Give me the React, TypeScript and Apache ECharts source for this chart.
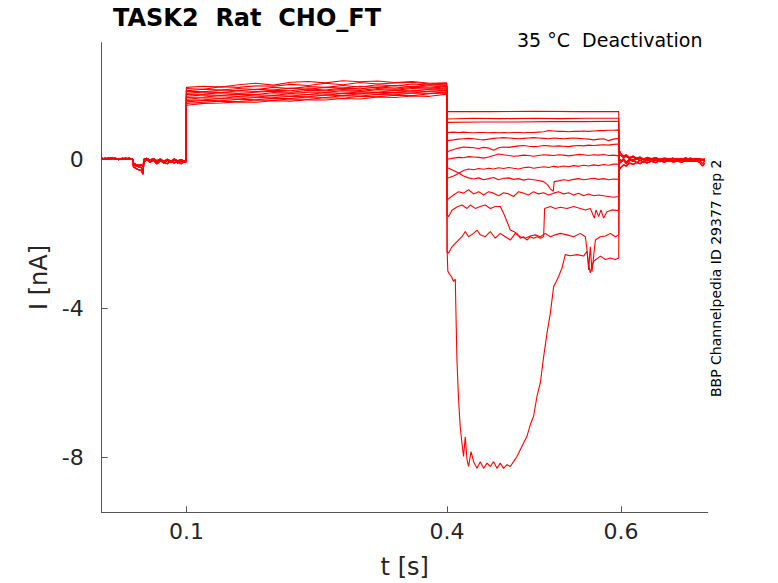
import React, { useEffect, useRef } from "react";
import * as echarts from "echarts";

// ---- axis ticks ----
const X_TICKS = [0.1, 0.4, 0.6];
const Y_TICKS = [-8, -4, 0];

// ---- holding segment (0 .. 0.1 s) ----
const T_BASE = [0.0025, 0.006, 0.01, 0.014, 0.018, 0.022, 0.026, 0.03, 0.034, 0.038, 0.039, 0.042, 0.045, 0.048, 0.05, 0.051, 0.054, 0.058, 0.062, 0.066, 0.07, 0.074, 0.078, 0.082, 0.086, 0.09, 0.094, 0.098, 0.0995];
const BASE_A = [0.02, 0.0, 0.03, 0.01, 0.02, -0.01, 0.03, 0.0, 0.02, 0.01, -0.15, -0.18, -0.2, -0.22, -0.35, -0.05, 0.02, -0.05, 0.01, -0.08, -0.02, -0.1, -0.03, -0.09, -0.02, -0.1, -0.04, -0.08, -0.05];
const BASE_B = [0.0, 0.03, 0.01, 0.04, 0.0, 0.02, 0.01, 0.03, 0.0, 0.02, -0.1, -0.14, -0.16, -0.15, -0.2, 0.0, 0.03, -0.02, 0.02, -0.04, 0.01, -0.06, 0.0, -0.05, 0.01, -0.04, -0.01, -0.05, 0.0];
const BASE_C = [0.03, 0.01, 0.0, 0.02, 0.03, 0.0, 0.02, 0.01, 0.03, 0.0, -0.2, -0.25, -0.28, -0.3, -0.4, -0.1, 0.0, -0.08, -0.03, -0.12, -0.05, -0.08, -0.12, -0.04, -0.1, -0.06, -0.12, -0.03, -0.08];

// ---- conditioning segment (0.1 .. 0.4 s) ----
const T_COND = [0.1, 0.12, 0.14, 0.16, 0.18, 0.2, 0.22, 0.24, 0.26, 0.28, 0.3, 0.32, 0.34, 0.36, 0.38, 0.3995];
const COND_1 = [1.93, 1.96, 1.94, 2.0, 2.04, 1.99, 2.07, 2.09, 2.05, 2.11, 2.08, 2.1, 2.06, 2.09, 2.04, 2.05];
const COND_2 = [1.9, 1.88, 1.95, 1.93, 1.97, 1.96, 2.01, 1.98, 2.04, 2.0, 2.06, 2.02, 2.05, 2.07, 2.02, 2.04];
const COND_3 = [1.84, 1.88, 1.86, 1.9, 1.87, 1.93, 1.9, 1.95, 1.93, 1.98, 1.94, 2.0, 1.97, 2.02, 1.99, 2.02];
const COND_4 = [1.83, 1.81, 1.86, 1.84, 1.88, 1.86, 1.91, 1.88, 1.93, 1.91, 1.96, 1.93, 1.98, 1.95, 2.0, 1.98];
const COND_5 = [1.77, 1.81, 1.79, 1.84, 1.82, 1.85, 1.84, 1.89, 1.86, 1.91, 1.89, 1.94, 1.91, 1.96, 1.94, 1.97];
const COND_6 = [1.74, 1.75, 1.79, 1.77, 1.8, 1.83, 1.8, 1.85, 1.84, 1.87, 1.85, 1.9, 1.88, 1.93, 1.91, 1.95];
const COND_7 = [1.69, 1.73, 1.72, 1.75, 1.74, 1.79, 1.77, 1.8, 1.8, 1.84, 1.82, 1.87, 1.85, 1.9, 1.88, 1.92];
const COND_8 = [1.66, 1.67, 1.71, 1.69, 1.73, 1.72, 1.76, 1.74, 1.79, 1.77, 1.81, 1.8, 1.85, 1.83, 1.88, 1.89];
const COND_9 = [1.61, 1.65, 1.64, 1.68, 1.67, 1.71, 1.7, 1.74, 1.72, 1.77, 1.76, 1.8, 1.79, 1.84, 1.82, 1.86];
const COND_10 = [1.58, 1.6, 1.63, 1.62, 1.66, 1.65, 1.69, 1.68, 1.73, 1.71, 1.76, 1.75, 1.79, 1.78, 1.83, 1.84];
const COND_11 = [1.54, 1.58, 1.57, 1.61, 1.6, 1.64, 1.63, 1.67, 1.66, 1.71, 1.7, 1.74, 1.73, 1.78, 1.77, 1.81];
const COND_12 = [1.5, 1.53, 1.56, 1.55, 1.59, 1.58, 1.62, 1.61, 1.65, 1.64, 1.69, 1.68, 1.72, 1.71, 1.76, 1.78];
const COND_13 = [1.45, 1.5, 1.51, 1.54, 1.53, 1.57, 1.56, 1.6, 1.59, 1.63, 1.62, 1.67, 1.66, 1.7, 1.69, 1.75];

// ---- test segment (0.4 .. 0.6 s) ----
const T_TEST = [0.4, 0.4074, 0.4132, 0.4189, 0.4247, 0.4305, 0.4363, 0.442, 0.4478, 0.4535, 0.4593, 0.465, 0.4708, 0.4765, 0.4823, 0.488, 0.4938, 0.4995, 0.5053, 0.5111, 0.5168, 0.5226, 0.5283, 0.5341, 0.5398, 0.5456, 0.5513, 0.5571, 0.5628, 0.5686, 0.5743, 0.5801, 0.5858, 0.5916, 0.5975];
const TEST_1 = [[0.4, 1.28], [0.45, 1.28], [0.5, 1.29], [0.55, 1.28], [0.5975, 1.28]];
const TEST_2 = [[0.4, 1.08], [0.43, 1.1], [0.46, 1.09], [0.5, 1.1], [0.53, 1.09], [0.56, 1.1], [0.5975, 1.1]];
const TEST_3 = [[0.4, 0.99], [0.44, 1.0], [0.48, 1.0], [0.52, 1.01], [0.56, 1.01], [0.5975, 1.02]];
const TEST_4 = [0.72, 0.73, 0.72, 0.73, 0.72, 0.71, 0.72, 0.72, 0.71, 0.72, 0.71, 0.72, 0.71, 0.72, 0.72, 0.71, 0.72, 0.72, 0.73, 0.74, 0.77, 0.76, 0.75, 0.75, 0.74, 0.75, 0.75, 0.76, 0.75, 0.76, 0.77, 0.77, 0.78, 0.78, 0.79];
const TEST_5 = [0.5, 0.52, 0.54, 0.55, 0.56, 0.55, 0.53, 0.52, 0.54, 0.56, 0.57, 0.58, 0.57, 0.56, 0.55, 0.56, 0.57, 0.58, 0.57, 0.56, 0.55, 0.57, 0.56, 0.55, 0.56, 0.57, 0.56, 0.55, 0.54, 0.52, 0.54, 0.55, 0.5, 0.54, 0.56];
const TEST_6 = [0.2, 0.26, 0.3, 0.33, 0.32, 0.31, 0.29, 0.32, 0.3, 0.24, 0.31, 0.33, 0.32, 0.34, 0.36, 0.37, 0.35, 0.34, 0.35, 0.37, 0.36, 0.35, 0.36, 0.35, 0.34, 0.36, 0.37, 0.36, 0.38, 0.37, 0.38, 0.39, 0.38, 0.4, 0.41];
const TEST_7 = [0.0, 0.03, 0.05, 0.04, 0.07, 0.06, 0.05, 0.03, 0.06, 0.1, 0.14, 0.12, 0.1, 0.08, 0.09, 0.11, 0.1, 0.08, 0.1, 0.12, 0.11, 0.1, 0.12, 0.11, 0.09, 0.11, 0.13, 0.12, 0.1, 0.12, 0.11, 0.13, 0.1, 0.11, 0.09];
const TEST_8 = [[0.4, -0.22], [0.4017, -0.24], [0.4074, -0.3], [0.4132, -0.37], [0.4189, -0.45], [0.4247, -0.5], [0.4305, -0.53], [0.4363, -0.5], [0.442, -0.55], [0.4478, -0.52], [0.4535, -0.49], [0.4593, -0.55], [0.465, -0.51], [0.4708, -0.5], [0.4765, -0.54], [0.4823, -0.52], [0.488, -0.56], [0.4938, -0.53], [0.4995, -0.55], [0.5053, -0.57], [0.5111, -0.6], [0.5155, -0.68], [0.519, -0.8], [0.5222, -0.86], [0.5232, -0.6], [0.5283, -0.58], [0.5341, -0.55], [0.5398, -0.57], [0.5456, -0.54], [0.5513, -0.52], [0.5571, -0.55], [0.5628, -0.53], [0.5686, -0.51], [0.5743, -0.54], [0.5801, -0.52], [0.5858, -0.55], [0.5916, -0.53], [0.5975, -0.54]];
const TEST_9 = [-0.51, -0.45, -0.38, -0.3, -0.26, -0.28, -0.25, -0.27, -0.24, -0.26, -0.23, -0.25, -0.22, -0.24, -0.26, -0.23, -0.21, -0.24, -0.22, -0.2, -0.22, -0.19, -0.21, -0.18, -0.2, -0.17, -0.19, -0.16, -0.18, -0.15, -0.17, -0.14, -0.16, -0.13, -0.13];
const TEST_10 = [-1.09, -0.96, -0.87, -0.91, -0.82, -0.93, -0.87, -0.96, -0.87, -0.91, -0.98, -0.9, -0.93, -1.0, -0.87, -0.91, -0.96, -0.87, -0.93, -0.9, -0.96, -0.91, -0.87, -0.93, -0.9, -0.96, -0.91, -0.98, -0.93, -0.98, -0.96, -0.98, -1.0, -1.02, -1.0];
const TEST_11 = [[0.4, -1.5], [0.4017, -1.54], [0.4056, -1.37], [0.4113, -1.28], [0.4171, -1.23], [0.4229, -1.32], [0.4267, -1.23], [0.4324, -1.32], [0.4382, -1.27], [0.4439, -1.23], [0.4497, -1.32], [0.4554, -1.27], [0.4612, -1.27], [0.465, -1.45], [0.4689, -1.67], [0.4727, -1.9], [0.4765, -1.94], [0.4804, -1.99], [0.4842, -2.12], [0.488, -2.08], [0.4919, -2.17], [0.4957, -2.08], [0.4995, -2.12], [0.5034, -2.08], [0.5073, -2.12], [0.5111, -2.08], [0.5122, -1.32], [0.5188, -1.27], [0.5245, -1.32], [0.5303, -1.29], [0.538, -1.32], [0.5456, -1.27], [0.5533, -1.32], [0.5591, -1.36], [0.5648, -1.32], [0.5694, -1.58], [0.5714, -1.36], [0.5744, -1.54], [0.5771, -1.36], [0.5801, -1.58], [0.584, -1.41], [0.5898, -1.36], [0.5975, -1.38]];
const TEST_12 = [[0.4, -2.5], [0.4017, -2.52], [0.4056, -2.35], [0.4113, -2.21], [0.4171, -2.08], [0.4209, -1.94], [0.4247, -2.08], [0.4305, -1.99], [0.4344, -1.9], [0.4382, -2.03], [0.4439, -2.08], [0.4497, -1.94], [0.4554, -2.12], [0.4612, -1.99], [0.467, -2.08], [0.4727, -2.17], [0.4785, -1.99], [0.4842, -2.08], [0.49, -2.12], [0.4957, -2.06], [0.5015, -2.03], [0.5073, -2.08], [0.513, -1.99], [0.5188, -2.08], [0.5245, -2.03], [0.5303, -1.99], [0.538, -2.03], [0.5456, -2.08], [0.5533, -1.99], [0.5591, -2.08], [0.561, -2.43], [0.5629, -2.97], [0.5648, -2.35], [0.5668, -3.02], [0.5686, -2.61], [0.5706, -2.17], [0.5763, -2.08], [0.5821, -2.06], [0.5879, -1.99], [0.5936, -2.08], [0.5975, -2.03]];
const TEST_13 = [[0.4, -2.45], [0.4008, -3.0], [0.4025, -3.08], [0.405, -3.15], [0.4075, -3.28], [0.4094, -3.22], [0.4113, -5.39], [0.4132, -6.46], [0.4151, -7.18], [0.417, -7.6], [0.4189, -7.98], [0.4209, -7.45], [0.4229, -8.07], [0.4247, -8.25], [0.4275, -7.85], [0.4305, -8.12], [0.4344, -8.3], [0.4382, -8.12], [0.442, -8.3], [0.4459, -8.16], [0.4497, -8.25], [0.4535, -8.12], [0.4574, -8.3], [0.4612, -8.16], [0.465, -8.3], [0.4689, -8.2], [0.4727, -8.25], [0.4765, -8.12], [0.4804, -7.98], [0.4842, -7.8], [0.488, -7.62], [0.4919, -7.44], [0.4957, -7.13], [0.4995, -6.9], [0.5034, -6.37], [0.5073, -6.0], [0.5111, -5.3], [0.515, -4.67], [0.5188, -4.13], [0.5226, -3.42], [0.5257, -3.28], [0.5283, -3.15], [0.5322, -2.92], [0.536, -2.56], [0.5418, -2.59], [0.5495, -2.56], [0.5571, -2.6], [0.561, -2.47], [0.5629, -2.83], [0.5648, -3.05], [0.5668, -2.87], [0.5686, -2.74], [0.5765, -2.6], [0.5822, -2.69], [0.5879, -2.65], [0.5937, -2.69], [0.5975, -2.65]];

// ---- return to holding (0.6 .. 0.7 s) ----
const T_POST = [0.598, 0.6, 0.603, 0.606, 0.61, 0.614, 0.618, 0.622, 0.626, 0.63, 0.635, 0.64, 0.645, 0.65, 0.655, 0.66, 0.665, 0.67, 0.675, 0.68, 0.685, 0.69, 0.694, 0.6965];
const POST_A = [0.12, 0.1, 0.05, 0.08, 0.02, 0.06, 0.0, 0.04, -0.02, 0.03, 0.0, 0.04, -0.01, 0.02, 0.0, 0.03, -0.02, 0.01, 0.03, -0.01, 0.02, 0.0, -0.03, 0.0];
const POST_B = [-0.28, -0.22, -0.15, -0.18, -0.1, -0.14, -0.08, -0.12, -0.06, -0.1, -0.05, -0.09, -0.04, -0.08, -0.03, -0.07, -0.05, -0.08, -0.03, -0.06, -0.04, -0.07, -0.18, -0.1];
const POST_C = [0.02, -0.05, 0.02, -0.08, 0.0, -0.06, 0.02, -0.04, 0.01, -0.05, 0.02, -0.03, 0.0, -0.05, 0.01, -0.04, 0.02, -0.03, 0.0, -0.04, 0.01, -0.03, -0.01, -0.05];
const POST_D = [-0.12, -0.08, -0.02, -0.12, -0.04, 0.0, -0.1, -0.02, -0.08, 0.0, -0.06, -0.01, -0.07, 0.01, -0.05, -0.02, -0.06, 0.0, -0.05, -0.02, -0.06, -0.01, -0.12, -0.04];
const POST_E = [0.25, 0.15, 0.08, 0.12, 0.05, 0.09, 0.03, 0.06, 0.01, 0.05, 0.02, 0.04, 0.0, 0.03, 0.01, 0.02, -0.01, 0.02, 0.0, 0.03, -0.01, 0.02, 0.0, 0.01];

const zip = (ts: number[], vs: number[]) => ts.map((t, i) => [t, vs[i]]);

const TRACES = [
  { base: BASE_A, cond: COND_1, test: TEST_1, post: POST_A },
  { base: BASE_B, cond: COND_2, test: TEST_2, post: POST_B },
  { base: BASE_C, cond: COND_3, test: TEST_3, post: POST_C },
  { base: BASE_A, cond: COND_4, test: zip(T_TEST, TEST_4), post: POST_D },
  { base: BASE_B, cond: COND_5, test: zip(T_TEST, TEST_5), post: POST_E },
  { base: BASE_C, cond: COND_6, test: zip(T_TEST, TEST_6), post: POST_A },
  { base: BASE_A, cond: COND_7, test: zip(T_TEST, TEST_7), post: POST_B },
  { base: BASE_B, cond: COND_8, test: TEST_8, post: POST_C },
  { base: BASE_C, cond: COND_9, test: zip(T_TEST, TEST_9), post: POST_D },
  { base: BASE_A, cond: COND_10, test: zip(T_TEST, TEST_10), post: POST_E },
  { base: BASE_B, cond: COND_11, test: TEST_11, post: POST_A },
  { base: BASE_C, cond: COND_12, test: TEST_12, post: POST_B },
  { base: BASE_A, cond: COND_13, test: TEST_13, post: POST_C },
];

const FONT = '"DejaVu Sans", "Liberation Sans", sans-serif';
const TEXT = "#262626";
const AXIS = "#555555";

export default function App() {
  const ref = useRef<HTMLDivElement>(null);

  useEffect(() => {
    if (!ref.current) return;
    const chart = echarts.init(ref.current, null, { renderer: "svg" });

    const series = TRACES.map((tr) => ({
      type: "line",
      data: [
        ...zip(T_BASE, tr.base),
        ...zip(T_COND, tr.cond),
        ...tr.test,
        ...zip(T_POST, tr.post),
      ],
      showSymbol: false,
      symbol: "none",
      lineStyle: { color: "#ff0000", width: 1.1 },
      itemStyle: { color: "#ff0000" },
      silent: true,
      emphasis: { disabled: true },
      clip: true,
    }));

    chart.setOption({
      animation: false,
      backgroundColor: "#ffffff",
      grid: {
        left: 101.7,
        right: 70.2,
        top: 42.7,
        bottom: 70.7,
        containLabel: false,
        outerBoundsMode: "none",
      },
      xAxis: {
        type: "value",
        min: 0.0025,
        max: 0.7,
        name: "t [s]",
        nameLocation: "middle",
        nameGap: 55,
        nameTextStyle: { fontFamily: FONT, fontSize: 24, color: TEXT, verticalAlign: "middle" },
        axisLine: { show: true, onZero: false, lineStyle: { color: AXIS, width: 1 } },
        axisTick: { show: true, inside: true, length: 6, customValues: X_TICKS, lineStyle: { color: AXIS } },
        axisLabel: { customValues: X_TICKS, fontFamily: FONT, fontSize: 22, color: TEXT, margin: 8 },
        splitLine: { show: false },
      },
      yAxis: {
        type: "value",
        min: -9.48,
        max: 3.13,
        name: "I [nA]",
        nameLocation: "middle",
        nameGap: 59,
        nameRotate: 90,
        nameTextStyle: { fontFamily: FONT, fontSize: 24, color: TEXT, verticalAlign: "middle" },
        axisLine: { show: true, onZero: false, lineStyle: { color: AXIS, width: 1 } },
        axisTick: { show: true, inside: true, length: 6, customValues: Y_TICKS, lineStyle: { color: AXIS } },
        axisLabel: { customValues: Y_TICKS, fontFamily: FONT, fontSize: 22, color: TEXT, margin: 18 },
        splitLine: { show: false },
      },
      graphic: [
        {
          type: "text",
          x: 113,
          y: 17.5,
          style: {
            text: "TASK2  Rat  CHO_FT",
            fontFamily: FONT,
            fontSize: 24,
            fontWeight: "bold",
            fill: "#000000",
            align: "left",
            verticalAlign: "middle",
          },
        },
        {
          type: "text",
          x: 702.5,
          y: 40,
          style: {
            text: "35 °C  Deactivation",
            fontFamily: FONT,
            fontSize: 19,
            fill: "#000000",
            align: "right",
            verticalAlign: "middle",
          },
        },
        {
          type: "text",
          x: 716.2,
          y: 278.3,
          rotation: Math.PI / 2,
          style: {
            text: "BBP Channelpedia ID 29377 rep 2",
            fontFamily: FONT,
            fontSize: 14,
            fill: "#000000",
            align: "center",
            verticalAlign: "middle",
          },
        },
      ],
      series,
    });

    return () => chart.dispose();
  }, []);

  return (
    <div
      ref={ref}
      style={{ position: "absolute", left: 0, top: 0, width: 778, height: 583 }}
    />
  );
}
